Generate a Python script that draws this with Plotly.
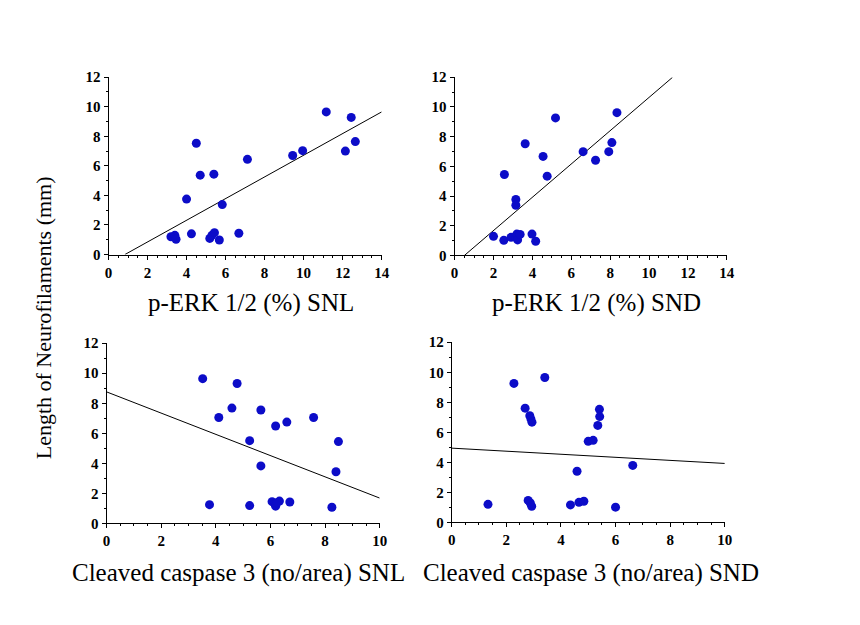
import plotly.graph_objects as go

W, H = 860, 625

# ---- data ----
snl_erk_x = [3.2, 3.4, 3.46, 4.0, 4.25, 4.5, 4.7, 5.4, 5.19, 5.3, 5.43, 5.68, 5.83, 6.68, 7.12, 9.44, 9.95, 11.16, 12.44, 12.14, 12.65]
snl_erk_y = [1.2, 1.3, 1.03, 3.75, 1.4, 7.53, 5.37, 5.44, 1.09, 1.3, 1.48, 0.98, 3.38, 1.44, 6.44, 6.70, 7.03, 9.65, 9.28, 7.0, 7.64]
snl_erk_line_x = [0.84, 14.0]
snl_erk_line_y = [0.0, 9.65]

snd_erk_x = [2.0, 2.53, 2.56, 2.9, 3.14, 3.15, 3.15, 3.2, 3.24, 3.37, 3.63, 3.98, 4.17, 4.55, 4.76, 5.19, 6.61, 7.25, 7.93, 8.09, 8.35]
snd_erk_y = [1.29, 1.02, 5.45, 1.22, 1.26, 3.77, 3.38, 1.44, 1.05, 1.42, 7.52, 1.44, 0.96, 6.67, 5.34, 9.26, 6.99, 6.41, 6.99, 7.6, 9.61]
snd_erk_line_x = [0.5, 11.2]
snd_erk_line_y = [0.0, 11.98]

snl_casp_x = [3.52, 3.77, 4.11, 4.59, 4.78, 5.24, 5.24, 5.65, 5.65, 6.06, 6.16, 6.19, 6.19, 6.33, 6.24, 6.60, 6.71, 7.58, 8.25, 8.40, 8.49]
snl_casp_y = [9.64, 1.25, 7.05, 7.68, 9.32, 5.51, 1.19, 7.55, 3.83, 1.45, 1.32, 6.49, 1.15, 1.49, 1.38, 6.75, 1.43, 7.05, 1.08, 3.44, 5.45]
snl_casp_line_x = [0.0, 10.0]
snl_casp_line_y = [8.76, 1.69]

snd_casp_x = [1.33, 2.28, 2.69, 2.80, 2.86, 2.88, 2.90, 2.94, 2.93, 3.41, 4.35, 4.59, 4.66, 4.84, 5.0, 5.18, 5.35, 5.41, 5.42, 6.0, 6.63]
snd_casp_y = [1.21, 9.26, 7.61, 1.47, 7.11, 1.30, 6.90, 6.68, 1.08, 9.65, 1.17, 3.41, 1.34, 1.41, 5.40, 5.47, 6.46, 7.53, 7.05, 1.02, 3.80]
snd_casp_line_x = [0.0, 10.0]
snd_casp_line_y = [4.95, 3.93]

x_titles = ["p-ERK 1/2 (%) SNL", "p-ERK 1/2 (%) SND",
            "Cleaved caspase 3 (no/area) SNL", "Cleaved caspase 3 (no/area) SND"]
y_title = "Length of Neurofilaments (mm)"
x_max = [14, 14, 10, 10]
y_max = 12

panels = [
    (snl_erk_x, snl_erk_y, snl_erk_line_x, snl_erk_line_y),
    (snd_erk_x, snd_erk_y, snd_erk_line_x, snd_erk_line_y),
    (snl_casp_x, snl_casp_y, snl_casp_line_x, snl_casp_line_y),
    (snd_casp_x, snd_casp_y, snd_casp_line_x, snd_casp_line_y),
]

# pixel boxes: (left, right, top, bottom)
boxes = [(106, 383, 71, 253), (457, 733, 71, 254), (104, 381, 344, 529), (454, 731, 343, 528)]
title_pos = [(251, 303), (601, 303), (238, 580), (595, 580)]

MARK = "#0c0cc8"
FONT = "Liberation Serif"

fig = go.Figure()
layout = dict(
    width=W, height=H, margin=dict(l=0, r=0, t=0, b=0),
    paper_bgcolor="white", plot_bgcolor="white", showlegend=False,
    annotations=[],
)

for i, ((px, py, lx, ly), (l, r, t, b)) in enumerate(zip(panels, boxes)):
    n = "" if i == 0 else str(i + 1)
    xa, ya = "x" + n, "y" + n
    fig.add_trace(go.Scatter(x=lx, y=ly, mode="lines", line=dict(color="black", width=1),
                             xaxis=xa, yaxis=ya, hoverinfo="skip"))
    fig.add_trace(go.Scatter(x=px, y=py, mode="markers",
                             marker=dict(color=MARK, size=9, line=dict(width=0)),
                             xaxis=xa, yaxis=ya, cliponaxis=False))
    common = dict(showgrid=False, zeroline=False, showline=True, linecolor="black", linewidth=1,
                  ticks="outside", ticklen=4, tickcolor="black", tickwidth=1,
                  tickfont=dict(family=FONT, size=15, color="black", weight="bold"))
    layout["xaxis" + n] = dict(domain=[l / W, r / W], range=[0, x_max[i]], dtick=2, tick0=0,
                               anchor=ya, minor=dict(dtick=0.5, ticklen=2, ticks="outside", tickcolor="black"),
                               **common)
    layout["yaxis" + n] = dict(domain=[1 - b / H, 1 - t / H], range=[0, y_max], dtick=2, tick0=0,
                               anchor=xa, minor=dict(dtick=1, ticklen=2, ticks="outside", tickcolor="black"),
                               **common)
    tx, ty = title_pos[i]
    layout["annotations"].append(dict(text=x_titles[i], x=tx / W, y=1 - ty / H, xref="paper", yref="paper",
                                      showarrow=False, xanchor="center", yanchor="middle",
                                      font=dict(family=FONT, size=25, color="black")))

layout["annotations"].append(dict(text=y_title, x=40 / W, y=1 - 318 / H, xref="paper", yref="paper",
                                  showarrow=False, textangle=-90, xanchor="center", yanchor="middle",
                                  font=dict(family=FONT, size=22, color="black")))

fig.update_layout(**layout)
fig.write_html("out.html", config={"displayModeBar": False},
               post_script="document.body.style.margin='0';document.body.style.overflow='hidden';")
